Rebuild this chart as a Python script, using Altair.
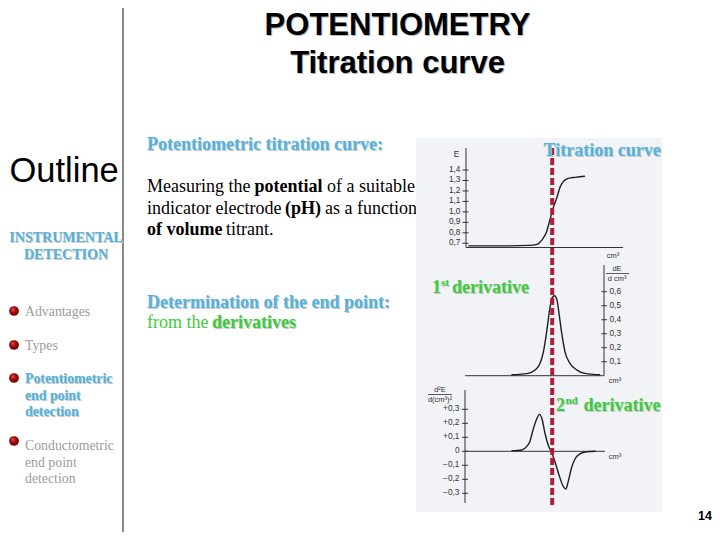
import altair as alt
import pandas as pd

W, H = 704, 524
OX, OY = 8, 8  # page margin

# ---------------- data ----------------
# titration curve (E vs volume)
vol_E = [0.4, 4.0, 8.0, 9.0, 9.6, 10.2, 10.6, 11.0, 11.5, 11.9, 12.3, 12.9, 13.8, 15.0]
E_vals = [0.675, 0.675, 0.68, 0.69, 0.73, 0.81, 0.92, 1.03, 1.14, 1.24, 1.29, 1.32, 1.33, 1.34]
# first derivative
vol_d1 = [5.8, 7.9, 8.75, 9.4, 9.8, 10.2, 10.6, 10.9, 11.2, 11.5, 11.75, 12.1, 12.5, 13.1, 14.0, 15.0, 16.9]
d1_vals = [0.007, 0.017, 0.04, 0.09, 0.17, 0.31, 0.48, 0.557, 0.571, 0.54, 0.446, 0.30, 0.17, 0.09, 0.04, 0.017, 0.007]
# second derivative
vol_d2 = [5.8, 7.1, 7.7, 8.1, 8.5, 9.0, 9.3, 9.6, 10.0, 10.4, 10.8, 11.25, 11.75, 12.3, 12.6, 12.9, 13.3, 13.75, 14.4, 15.2, 16.3]
d2_vals = [0.003, 0.009, 0.033, 0.069, 0.152, 0.236, 0.264, 0.236, 0.129, 0.045, -0.007, -0.074, -0.169, -0.253, -0.27, -0.217, -0.121, -0.055, -0.017, -0.003, 0.0]
endpoint = [10.9]

E_ticks = [0.7, 0.8, 0.9, 1.0, 1.1, 1.2, 1.3, 1.4]
E_labels = ["0,7", "0,8", "0,9", "1,0", "1,1", "1,2", "1,3", "1,4"]
d1_ticks = [0.1, 0.2, 0.3, 0.4, 0.5, 0.6]
d1_labels = ["0,1", "0,2", "0,3", "0,4", "0,5", "0,6"]
d2_ticks = [-0.3, -0.2, -0.1, 0.0, 0.1, 0.2, 0.3]
d2_labels = ["\u22120,3", "\u22120,2", "\u22120,1", "0", "+0,1", "+0,2", "+0,3"]

sidebar_items = ["Advantages", "Types", "Potentiometric", "Conductometric"]

# ---------------- colours / fonts ----------------
BLUE = "#55B3DE"
GREEN = "#3CCB3C"
GREY_TXT = "#9C9C9C"
RED = "#AE1F3B"
SERIF = "Liberation Serif"
SANS = "Liberation Sans"
AX = "#333333"

one = pd.DataFrame({"k": [0]})


def px(x):
    return x - OX


def py(y):
    return y - OY


def text(s, x, y, size, color="black", font=SERIF, weight="normal", align="left", baseline="alphabetic"):
    return alt.Chart(one).mark_text(
        text=s, fontSize=size, color=color, font=font, fontWeight=weight,
        align=align, baseline=baseline
    ).encode(x=alt.value(px(x)), y=alt.value(py(y)))


def stext(s, x, y, size, color, font=SERIF, align="left", shadow="#C8C8C8"):
    # bold text with a soft shadow, like the slide's effects
    return [text(s, x + 1, y + 1, size, shadow, font, "bold", align),
            text(s, x, y, size, color, font, "bold", align)]


def rule(x1, y1, x2, y2, color=AX, width=1.0):
    return alt.Chart(one).mark_rule(color=color, strokeWidth=width).encode(
        x=alt.value(px(x1)), x2=alt.value(px(x2)), y=alt.value(py(y1)), y2=alt.value(py(y2)))


XS = alt.Scale(domain=[0, 20], range=[px(465), px(625)], nice=False, zero=False)
Y1 = alt.Scale(domain=[0.7, 1.4], range=[py(243.3), py(170)], nice=False, zero=False)
Y2 = alt.Scale(domain=[0, 0.6], range=[py(375.7), py(291.7)], nice=False, zero=False)
Y3 = alt.Scale(domain=[-0.3, 0.3], range=[py(493.3), py(409.3)], nice=False, zero=False)

layers = []

# ---------------- title ----------------
for s, yb in [("POTENTIOMETRY", 35), ("Titration curve", 73)]:
    layers += stext(s, 397.5, yb, 31, "black", SANS, "center", "#B5B5B5")

# ---------------- sidebar ----------------
layers.append(rule(123, 0, 123, 540, "#8A8A8A", 2))
layers.append(text("Outline", 9.5, 182, 34.5, "black", SANS))
layers += stext("INSTRUMENTAL", 66, 242, 14, BLUE, align="center")
layers += stext("DETECTION", 66, 259, 14, BLUE, align="center")

bul = pd.DataFrame({"y": [py(311), py(345), py(378), py(441)]})
sphere = alt.RadialGradient(
    gradient="radial", x1=0.35, y1=0.3, r1=0.0, x2=0.5, y2=0.5, r2=0.6,
    stops=[alt.GradientStop(offset=0, color="#F05050"),
           alt.GradientStop(offset=0.45, color="#A80C0C"),
           alt.GradientStop(offset=1, color="#4A0000")])
layers.append(alt.Chart(bul).mark_circle(size=95, fill=sphere, opacity=1, fillOpacity=1).encode(
    x=alt.value(px(14)), y=alt.Y("y:Q", scale=alt.Scale(domain=[0, H], range=[0, H], nice=False, zero=False), axis=None)))

BS = 13.8
layers.append(text(sidebar_items[0], 25, 315.5, BS, GREY_TXT))
layers.append(text(sidebar_items[1], 25, 349.5, BS, GREY_TXT))
for i, s in enumerate([sidebar_items[2], "end point", "detection"]):
    layers += stext(s, 25, 383 + i * 16.7, BS, BLUE)
for i, s in enumerate([sidebar_items[3], "end point", "detection"]):
    layers.append(text(s, 25, 450 + i * 16.7, BS, GREY_TXT))

# ---------------- body text ----------------
FS = 18
layers += stext("Potentiometric titration curve:", 147, 150, FS, BLUE)
layers.append(text("Measuring the", 147, 192, FS))
layers.append(text("potential", 254.5, 192, FS, weight="bold"))
layers.append(text("of a suitable", 327, 192, FS))
layers.append(text("indicator electrode", 147, 214, FS))
layers.append(text("(pH)", 285, 214, FS, weight="bold"))
layers.append(text("as a function", 325, 214, FS))
layers.append(text("of volume", 147, 235, FS, weight="bold"))
layers.append(text("titrant.", 226, 235, FS))
layers += stext("Determination of the end point:", 147, 308, FS, BLUE)
layers.append(text("from the", 147, 328, FS, GREEN))
layers += stext("derivatives", 212, 328, FS, GREEN)

# ---------------- figure ----------------
layers.append(alt.Chart(one).mark_rect(color="#F1F3F6").encode(
    x=alt.value(px(416)), x2=alt.value(px(662)), y=alt.value(py(138)), y2=alt.value(py(512))))

TS = 8.3
# panel 1 axes
layers.append(rule(466, 148, 466, 247.5))
layers.append(rule(466, 247.5, 623, 247.5))
t1 = pd.DataFrame({"v": E_ticks, "lab": E_labels})
layers.append(alt.Chart(t1).mark_rule(color=AX, strokeWidth=1).encode(
    y=alt.Y("v:Q", scale=Y1, axis=None), x=alt.value(px(462.5)), x2=alt.value(px(468.5))))
layers.append(alt.Chart(t1).mark_text(fontSize=TS, font=SANS, color=AX, align="right", baseline="middle").encode(
    y=alt.Y("v:Q", scale=Y1, axis=None), x=alt.value(px(460.5)), text="lab:N"))
layers.append(text("E", 456.5, 157, TS, AX, SANS, align="center"))
layers.append(text("cm\u00b3", 613, 258, 7.5, AX, SANS, align="center"))

# panel 2 axes
layers.append(rule(604, 265, 604, 375.7))
layers.append(rule(465, 375.7, 604, 375.7))
t2 = pd.DataFrame({"v": d1_ticks, "lab": d1_labels})
layers.append(alt.Chart(t2).mark_rule(color=AX, strokeWidth=1).encode(
    y=alt.Y("v:Q", scale=Y2, axis=None), x=alt.value(px(601.5)), x2=alt.value(px(607))))
layers.append(alt.Chart(t2).mark_text(fontSize=TS, font=SANS, color=AX, align="left", baseline="middle").encode(
    y=alt.Y("v:Q", scale=Y2, axis=None), x=alt.value(px(609.5)), text="lab:N"))
layers.append(text("dE", 617, 271, 7.5, AX, SANS, align="center"))
layers.append(rule(606, 273.5, 629, 273.5, AX, 0.8))
layers.append(text("d cm\u00b3", 617, 281, 7.5, AX, SANS, align="center"))
layers.append(text("cm\u00b3", 615, 383, 7.5, AX, SANS, align="center"))

# panel 3 axes
layers.append(rule(465, 390, 465, 503))
layers.append(rule(465, 451.3, 605, 451.3))
t3 = pd.DataFrame({"v": d2_ticks, "lab": d2_labels})
layers.append(alt.Chart(t3).mark_rule(color=AX, strokeWidth=1).encode(
    y=alt.Y("v:Q", scale=Y3, axis=None), x=alt.value(px(462)), x2=alt.value(px(468))))
layers.append(alt.Chart(t3).mark_text(fontSize=TS, font=SANS, color=AX, align="right", baseline="middle").encode(
    y=alt.Y("v:Q", scale=Y3, axis=None), x=alt.value(px(459.5)), text="lab:N"))
layers.append(text("d\u00b2E", 440, 392, 7.5, AX, SANS, align="center"))
layers.append(rule(428, 394.5, 452, 394.5, AX, 0.8))
layers.append(text("d(cm\u00b3)\u00b2", 440, 402, 7.5, AX, SANS, align="center"))
layers.append(text("cm\u00b3", 615, 458.5, 7.5, AX, SANS, align="center"))

# curves
c1 = pd.DataFrame({"vol": vol_E, "val": E_vals})
c2 = pd.DataFrame({"vol": vol_d1, "val": d1_vals})
c3 = pd.DataFrame({"vol": vol_d2, "val": d2_vals})
for df, ys in [(c1, Y1), (c2, Y2), (c3, Y3)]:
    layers.append(alt.Chart(df).mark_line(color="#1E1E1E", strokeWidth=1.4, interpolate="monotone").encode(
        x=alt.X("vol:Q", scale=XS, axis=None), y=alt.Y("val:Q", scale=ys, axis=None)))

# end point line
layers.append(alt.Chart(pd.DataFrame({"v": endpoint})).mark_rule(
    color=RED, strokeWidth=4, strokeDash=[7, 3]).encode(
    x=alt.X("v:Q", scale=XS, axis=None), y=alt.value(py(148)), y2=alt.value(py(505))))

# figure labels
layers += stext("Titration curve", 543.5, 155.5, FS, BLUE)
layers += stext("1", 432, 293, FS, GREEN)
layers += stext("st", 441, 286, 11, GREEN)
layers += stext("derivative", 452, 293, FS, GREEN)
layers += stext("2", 556, 411, FS, GREEN)
layers += stext("nd", 565.5, 404, 11, GREEN)
layers += stext("derivative", 583.5, 411, FS, GREEN)

# page number
layers.append(text("14", 705, 519.5, 12.5, "black", SANS, "bold", "center"))

chart = alt.layer(*layers).resolve_scale(x="independent", y="independent").properties(
    width=W, height=H, autosize=alt.AutoSizeParams(type="none"), padding=0,
    background="white"
).configure_view(stroke=None)

chart.save("out.html", embed_options={"renderer": "svg", "actions": False})
